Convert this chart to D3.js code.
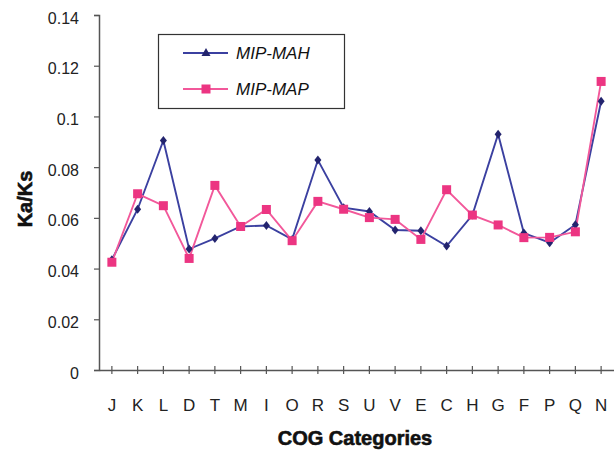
<!DOCTYPE html>
<html><head><meta charset="utf-8">
<script src="https://cdn.jsdelivr.net/npm/d3@7"></script>
<style>body{margin:0;background:#fff}svg{display:block}</style>
</head><body>
<script>
const categories = ["J","K","L","D","T","M","I","O","R","S","U","V","E","C","H","G","F","P","Q","N"];
const mipMAH = [0.0435,0.0634,0.0905,0.0477,0.0519,0.0566,0.0570,0.0515,0.0828,0.0640,0.0625,0.0552,0.0549,0.0489,0.0611,0.0930,0.0540,0.0502,0.0573,0.1060];
const mipMAP = [0.0425,0.0695,0.0648,0.0440,0.0728,0.0566,0.0633,0.0510,0.0665,0.0634,0.0601,0.0594,0.0515,0.0711,0.0611,0.0572,0.0522,0.0523,0.0545,0.1138];
const yTicks = [0,0.02,0.04,0.06,0.08,0.1,0.12,0.14];
const seriesNames = ["MIP-MAH","MIP-MAP"];

const W=614,H=452;
const svg=d3.select("body").append("svg").attr("width",W).attr("height",H);
const x=d3.scaleBand().domain(categories).range([99,614]).padding(0);
const y=d3.scaleLinear().domain([0,0.14]).range([370,15]);
const axisColor="#555";
const FONT="Liberation Sans, Arial, sans-serif";

// y axis
const gy=svg.append("g").attr("transform","translate(99,0)")
  .call(d3.axisLeft(y).tickValues(yTicks).tickSize(5).tickPadding(15).tickFormat(d=>d===0?"0":String(+d.toFixed(2))));
gy.select(".domain").attr("stroke",axisColor).attr("stroke-width",1.5);
gy.selectAll(".tick line").attr("stroke",axisColor).attr("stroke-width",1.2);
gy.selectAll("text").attr("font-family",FONT).attr("font-size",16).attr("fill","#222").attr("dy","0.5em");

// x axis
const gx=svg.append("g").attr("transform","translate(0,370)")
  .call(d3.axisBottom(x).tickSizeOuter(0).tickSizeInner(0).tickPadding(29));
gx.select(".domain").attr("stroke",axisColor).attr("stroke-width",1.5);
gx.selectAll(".tick").append("line").attr("y1",-4).attr("y2",4).attr("stroke",axisColor).attr("stroke-width",1.2);
gx.selectAll("text").attr("font-family",FONT).attr("font-size",17).attr("fill","#222");

// axis titles
svg.append("text").attr("x",355).attr("y",445).attr("text-anchor","middle")
  .attr("font-family",FONT).attr("font-weight","bold").attr("font-size",20).attr("fill","#111")
  .attr("stroke","#111").attr("stroke-width",0.6)
  .text("COG Categories");
svg.append("text").attr("transform","translate(32,199) rotate(-90)").attr("text-anchor","middle")
  .attr("font-family",FONT).attr("font-weight","bold").attr("font-size",20).attr("fill","#111")
  .attr("stroke","#111").attr("stroke-width",0.6)
  .text("Ka/Ks");

const cx=c=>x(c)+x.bandwidth()/2;
const series=[
  {name:seriesNames[0],vals:mipMAH,line:"#3b40a0",mark:"#23246e",shape:"diamond"},
  {name:seriesNames[1],vals:mipMAP,line:"#f2589a",mark:"#ec3582",shape:"square"}
];
const line=d3.line().x((d,i)=>cx(categories[i])).y(d=>y(d));
series.forEach(s=>{
  svg.append("path").datum(s.vals).attr("d",line).attr("fill","none").attr("stroke",s.line).attr("stroke-width",1.9);
});
series.forEach(s=>{
  const g=svg.append("g");
  s.vals.forEach((v,i)=>{
    const px=cx(categories[i]),py=y(v);
    if(s.shape==="square"){
      g.append("rect").attr("x",px-4.5).attr("y",py-4.5).attr("width",9).attr("height",9).attr("fill",s.mark);
    }else{
      g.append("path").attr("d",`M${px},${py-4.5}L${px+3.5},${py}L${px},${py+4.5}L${px-3.5},${py}Z`).attr("fill",s.mark);
    }
  });
});

// legend
const lg=svg.append("g");
lg.append("rect").attr("x",158.5).attr("y",34.5).attr("width",186).attr("height",74).attr("fill","#fff").attr("stroke","#333").attr("stroke-width",1.2);
const legY=[53,89];
series.forEach((s,i)=>{
  lg.append("line").attr("x1",183).attr("x2",228).attr("y1",legY[i]).attr("y2",legY[i]).attr("stroke",s.line).attr("stroke-width",1.9);
  if(s.shape==="square"){
    lg.append("rect").attr("x",201.5).attr("y",legY[i]-4.5).attr("width",9).attr("height",9).attr("fill",s.mark);
  }else{
    lg.append("path").attr("d",`M206,${legY[i]-5}L210.5,${legY[i]+3}L201.5,${legY[i]+3}Z`).attr("fill",s.mark);
  }
  lg.append("text").attr("x",236).attr("y",legY[i]+6).attr("font-family",FONT)
    .attr("font-style","italic").attr("font-size",17).attr("fill","#111").text(s.name);
});
</script>
</body></html>
